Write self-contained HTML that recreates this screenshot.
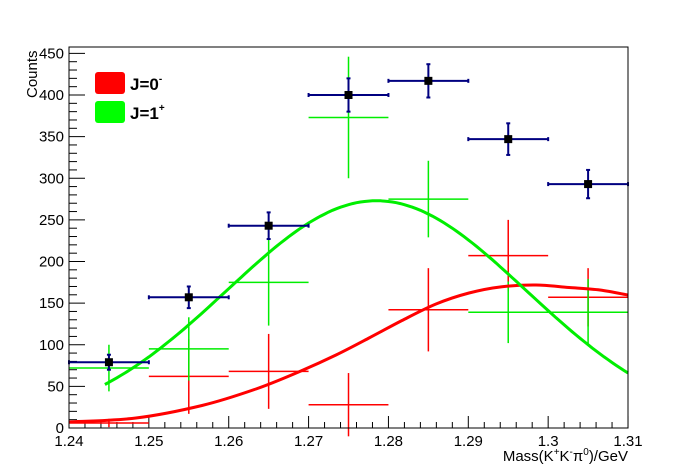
<!DOCTYPE html>
<html><head><meta charset="utf-8"><style>
body{margin:0;background:#fff}
svg{display:block;font-family:"Liberation Sans",Arial,sans-serif}
</style></head><body>
<svg id="s" width="698" height="476" xmlns="http://www.w3.org/2000/svg">
<rect width="698" height="476" fill="#fff"/>
<g id="g"></g>
<rect x="69" y="47" width="559" height="381" fill="none" stroke="#000" stroke-width="1"/>
<rect x="95" y="72" width="30" height="22" rx="3" fill="#ff0000"/>
<rect x="95" y="101" width="30" height="22" rx="3" fill="#00ff00"/>
<text x="130" y="90" font-size="17" font-weight="bold">J=0<tspan dy="-8" font-size="10">-</tspan></text>
<text x="130" y="119" font-size="17" font-weight="bold">J=1<tspan dy="-8" font-size="10">+</tspan></text>
<text transform="translate(37,98) rotate(-90)" font-size="15">Counts</text>
<text x="628" y="461" font-size="15" text-anchor="end">Mass(K<tspan dy="-6" font-size="10">+</tspan><tspan dy="6">K</tspan><tspan dy="-6" font-size="10">-</tspan><tspan dy="6">π</tspan><tspan dy="-6" font-size="10">0</tspan><tspan dy="6">)/GeV</tspan></text>
</svg>
<script>
var g=document.getElementById('g'),ns='http://www.w3.org/2000/svg';
function X(m){return 69+(m-1.24)*7986;}
function Y(v){return 428-v*0.8325;}
function el(t,a){var e=document.createElementNS(ns,t);for(var k in a)e.setAttribute(k,a[k]);g.appendChild(e);return e;}
function ln(x1,y1,x2,y2,c,w){el('line',{x1:x1,y1:y1,x2:x2,y2:y2,stroke:c,'stroke-width':w||1});}
for(var i=0;i<=35;i++){var m=1.24+i*0.002,x=X(m),maj=(i%5==0);ln(x,428,x,428-(maj?12:6),'#000');
 if(maj){var t=el('text',{x:x,y:446,'font-size':15,'text-anchor':'middle'});var v=(1.24+i/5*0.01);t.textContent=(Math.round(v*100)/100).toString();}}
for(var v=0;v<=450;v+=10){var y=Y(v),maj=(v%50==0);ln(69,y,69+(maj?16:8),y,'#000');
 if(maj){var t=el('text',{x:64,y:y+5,'font-size':15,'text-anchor':'end'});t.textContent=v;}}
function pts(d,c,w,sq){d.forEach(function(p){var cx=X(p[0]);ln(X(p[0]-0.005),Y(p[1]),X(p[0]+0.005),Y(p[1]),c,w);ln(cx,Y(p[1]-p[2]),cx,Y(p[1]+p[2]),c,w);
 if(sq){el('rect',{x:cx-4,y:Y(p[1])-4,width:8,height:8,fill:'#000'});ln(cx-2,Y(p[1]-p[2]),cx+2,Y(p[1]-p[2]),c,w);ln(cx-2,Y(p[1]+p[2]),cx+2,Y(p[1]+p[2]),c,w);ln(X(p[0]-0.005),Y(p[1])-2,X(p[0]-0.005),Y(p[1])+2,c,w);ln(X(p[0]+0.005),Y(p[1])-2,X(p[0]+0.005),Y(p[1])+2,c,w);}});}
function curve(f,a,b,c){var d='';for(var m=a;m<=b+1e-9;m+=0.0005){d+=(d?'L':'M')+X(m).toFixed(1)+','+Y(f(m)).toFixed(1);}el('path',{d:d,fill:'none',stroke:c,'stroke-width':3});}
function cr(P){var d='M'+P[0][0]+','+P[0][1];for(var i=0;i<P.length-1;i++){var p0=P[i-1]||P[i],p1=P[i],p2=P[i+1],p3=P[i+2]||p2;
 d+='C'+(p1[0]+(p2[0]-p0[0])/6).toFixed(1)+','+(p1[1]+(p2[1]-p0[1])/6).toFixed(1)+' '+(p2[0]-(p3[0]-p1[0])/6).toFixed(1)+','+(p2[1]-(p3[1]-p1[1])/6).toFixed(1)+' '+p2[0]+','+p2[1];}return d;}
pts([[1.245,6,5],[1.255,62,45],[1.265,68,45],[1.275,28,38],[1.285,142,50],[1.295,207,43],[1.305,157,35]],'#ff0000',1.5);
pts([[1.245,72,28],[1.255,95,38],[1.265,175,52],[1.275,373,73],[1.285,275,46],[1.295,139,37],[1.305,139,40]],'#00ee00',1.5);
el('path',{d:cr([[69,422],[136,418],[202,405.5],[256,389],[302,370.5],[336,355],[369,338],[402,320.5],[436,304],[469,293],[502,286.7],[536,285],[569,287.5],[600,290],[628,295]]),fill:'none',stroke:'#ff0000','stroke-width':3});
curve(function(m){return 273*Math.exp(-Math.pow(m-1.2785,2)/(2*0.0187*0.0187));},1.2445,1.31,'#00ee00');
pts([[1.245,79,9],[1.255,157,13],[1.265,243,16],[1.275,400,20],[1.285,417,20],[1.295,347,19],[1.305,293,17]],'#000080',2,true);
</script>
</body></html>
